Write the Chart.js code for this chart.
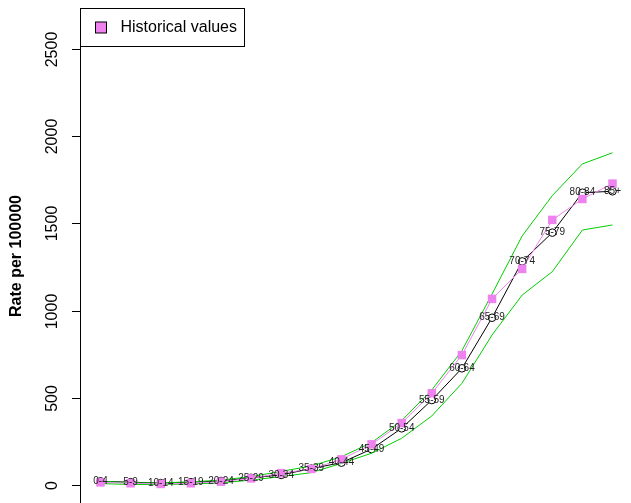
<!DOCTYPE html>
<html lang="en">
<head>
<meta charset="UTF-8">
<title>Rate per 100000</title>
<script src="https://cdn.jsdelivr.net/npm/chart.js"></script>
<style>
    html, body {
        margin: 0;
        padding: 0;
        background: #ffffff;
        overflow: hidden;
    }
    #wrap {
        position: relative;
        width: 640px;
        height: 512px;
    }
</style>
</head>
<body>
<div id="wrap"><canvas id="rates" width="640" height="512"></canvas></div>
<script>
    // age groups and rates per 100000
    const ageGroups = ['0-4', '5-9', '10-14', '15-19', '20-24', '25-29', '30-34', '35-39', '40-44',
        '45-49', '50-54', '55-59', '60-64', '65-69', '70-74', '75-79', '80-84', '85+'];
    const historical = [15, 10, 6, 10, 19, 38, 68, 92, 147, 233, 355, 526, 745, 1067, 1239, 1520, 1640, 1728];
    const fitted = [21, 16, 11, 16, 23, 41, 58, 94, 128, 206, 325, 487, 669, 959, 1282, 1447, 1676, 1684];
    const upperBound = [22, 12, 12, 18, 28, 48, 78, 109, 162, 243, 369, 545, 770, 1095, 1428, 1659, 1841, 1905];
    const lowerBound = [8, 3, 3, 6, 12, 28, 48, 71, 124, 182, 268, 396, 583, 860, 1089, 1223, 1462, 1491];
    const yTicks = [0, 500, 1000, 1500, 2000, 2500];

    const FONT = '"Liberation Sans", Arial, sans-serif';
    const VIOLET = '#ee82ee';
    const GREEN = '#00cd00';

    function toXY(values) {
        return values.map((v, i) => ({ x: i + 1, y: v }));
    }

    // R style axis, label and legend
    const rStyle = {
        id: 'rStyle',
        afterDatasetsDraw(chart) {
            const ctx = chart.ctx;
            const xs = chart.scales.x;
            const ys = chart.scales.y;

            // age labels on top of the fitted points
            ctx.save();
            ctx.fillStyle = '#222';
            ctx.font = '10px ' + FONT;
            ctx.textAlign = 'center';
            ctx.textBaseline = 'middle';
            ageGroups.forEach((lab, i) => {
                ctx.fillText(lab, xs.getPixelForValue(i + 1), ys.getPixelForValue(fitted[i]));
            });
            ctx.restore();
        },
        afterDraw(chart) {
            const ctx = chart.ctx;
            const area = chart.chartArea;
            const ys = chart.scales.y;

            ctx.save();
            ctx.strokeStyle = '#000';
            ctx.lineWidth = 1;
            ctx.beginPath();
            ctx.moveTo(area.left + 0.5, area.top);
            ctx.lineTo(area.left + 0.5, area.bottom);
            ctx.stroke();

            ctx.fillStyle = '#000';
            ctx.font = '16px ' + FONT;
            ctx.textAlign = 'center';
            ctx.textBaseline = 'middle';
            yTicks.forEach(t => {
                const py = Math.round(ys.getPixelForValue(t)) + 0.5;
                ctx.beginPath();
                ctx.moveTo(area.left - 8, py);
                ctx.lineTo(area.left, py);
                ctx.stroke();
                ctx.save();
                ctx.translate(area.left - 27, py);
                ctx.rotate(-Math.PI / 2);
                ctx.fillText(String(t), 0, 0);
                ctx.restore();
            });

            // axis title
            ctx.save();
            ctx.font = 'bold 16px ' + FONT;
            ctx.translate(17, (area.top + area.bottom) / 2);
            ctx.rotate(-Math.PI / 2);
            ctx.fillText('Rate per 100000', 0, 0);
            ctx.restore();

            // legend box
            const lx = area.left + 0.5, ly = area.top + 0.5;
            ctx.fillStyle = '#fff';
            ctx.fillRect(lx, ly, 164, 38);
            ctx.strokeRect(lx, ly, 164, 38);
            ctx.fillStyle = VIOLET;
            ctx.fillRect(lx + 15, ly + 13.5, 11, 11);
            ctx.strokeRect(lx + 15, ly + 13.5, 11, 11);
            ctx.fillStyle = '#000';
            ctx.textAlign = 'left';
            ctx.fillText(chart.data.datasets[3].label, lx + 40, ly + 19.5);
            ctx.restore();
        }
    };

    new Chart(document.getElementById('rates'), {
        type: 'line',
        data: {
            datasets: [
                {
                    label: 'Fitted',
                    data: toXY(fitted),
                    borderColor: '#000',
                    borderWidth: 1,
                    pointStyle: 'circle',
                    pointRadius: 3.8,
                    pointBorderColor: '#000',
                    pointBackgroundColor: '#fff',
                    pointBorderWidth: 1,
                    order: 4
                },
                {
                    label: 'Upper',
                    data: toXY(upperBound),
                    borderColor: GREEN,
                    borderWidth: 1,
                    pointRadius: 0,
                    order: 3
                },
                {
                    label: 'Lower',
                    data: toXY(lowerBound),
                    borderColor: GREEN,
                    borderWidth: 1,
                    pointRadius: 0,
                    order: 3
                },
                {
                    label: 'Historical values',
                    data: toXY(historical),
                    borderColor: VIOLET,
                    borderWidth: 1,
                    pointStyle: 'rect',
                    pointRadius: 6,
                    pointBackgroundColor: VIOLET,
                    pointBorderWidth: 0,
                    order: 1
                }
            ]
        },
        options: {
            responsive: false,
            animation: false,
            layout: {
                padding: { left: 80, top: 8, right: 7, bottom: 8 }
            },
            plugins: {
                legend: { display: false },
                tooltip: { enabled: false }
            },
            elements: { line: { tension: 0 } },
            scales: {
                x: { type: 'linear', min: 0.32, max: 18.68, display: false },
                y: { type: 'linear', min: -109, max: 2735, display: false }
            }
        },
        plugins: [rStyle]
    });
</script>
</body>
</html>
